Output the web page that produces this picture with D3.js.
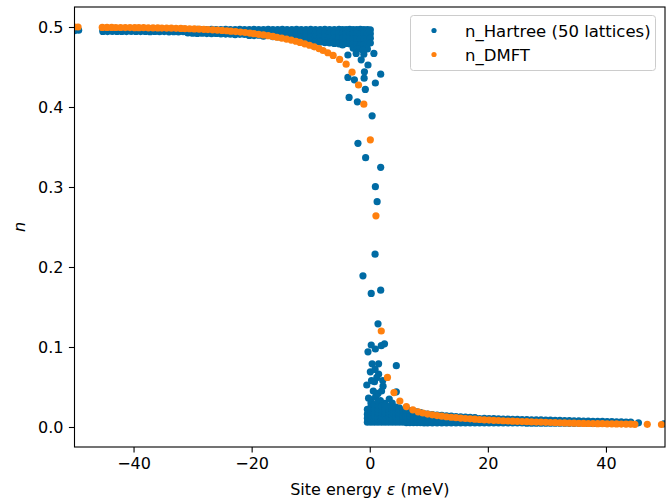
<!DOCTYPE html>
<html><head><meta charset="utf-8">
<script src="https://cdn.jsdelivr.net/npm/d3@7"></script>
<style>body{margin:0;background:#fff}svg{display:block}text{font-family:"DejaVu Sans",sans-serif}</style>
</head><body><div id="chart"></div>
<script>
// ---- data ----
const xTicks = [-40, -20, 0, 20, 40];
const yTicks = [0.0, 0.1, 0.2, 0.3, 0.4, 0.5];
const seriesNames = ["n_Hartree (50 lattices)", "n_DMFT"];

// Hartree columns: [x, y1, y2, ...]
const hartreeLeft = [
[-50.0,0.4955],[-49.3,0.496],
[-45.2,0.497,0.4945],[-44.4,0.4968,0.4943],[-43.6,0.497,0.4946],[-42.8,0.4969,0.4944],[-42.0,0.4968,0.4945],
[-41.2,0.497,0.4943],[-40.4,0.4969,0.4946],[-39.6,0.4968,0.4944],[-38.8,0.497,0.4943],[-38.0,0.4969,0.4945],
[-37.2,0.4968,0.4942],[-36.4,0.497,0.4944],[-35.6,0.4969,0.4941],[-34.8,0.4968,0.4943],[-34.0,0.497,0.494],
[-33.2,0.4969,0.4942],[-32.4,0.4968,0.4939],[-31.6,0.497,0.4941],[-30.8,0.4969,0.4937,0.4925],[-30.0,0.4968,0.494,0.4922],
[-29.2,0.497,0.4938,0.492],[-28.4,0.4969,0.4936,0.4923],[-27.6,0.4968,0.4939,0.4918],[-26.8,0.497,0.4937,0.4916],
[-26.0,0.4969,0.4934,0.4919],[-25.2,0.4968,0.4936,0.4914],[-24.4,0.497,0.4933,0.4912],[-23.6,0.4969,0.4935,0.491],
[-22.8,0.4968,0.4932,0.4913,0.4905],[-22.0,0.497,0.4934,0.4908],[-21.2,0.4969,0.4931,0.4906],[-20.4,0.4968,0.4933,0.4904,0.4895],
[-19.6,0.497,0.493,0.49,0.4893],[-18.8,0.4969,0.4932,0.4898],[-18.0,0.4968,0.4929,0.4896,0.4885],[-17.2,0.497,0.4931,0.4894],
[-16.4,0.4969,0.4928,0.4892,0.488],[-15.6,0.4968,0.493,0.489,0.4875],[-14.8,0.497,0.4927,0.4888,0.487],
[-14.0,0.4969,0.4929,0.4886,0.4865],[-13.2,0.4968,0.4926,0.4884,0.486],[-12.4,0.497,0.4928,0.4882,0.4855],
[-11.6,0.4969,0.4925,0.488,0.4848],[-10.8,0.4968,0.4927,0.4878,0.484],[-10.0,0.497,0.4924,0.4876,0.4835],
[-9.2,0.4969,0.4926,0.4874,0.483,0.4815],[-8.4,0.4968,0.4923,0.4872,0.4825,0.481],[-7.6,0.497,0.4925,0.487,0.482,0.4805],
[-6.8,0.4969,0.4922,0.4868,0.4815,0.48],[-6.0,0.4968,0.4924,0.4866,0.481,0.4795],[-5.2,0.497,0.4921,0.4864,0.4805,0.479],
[-4.6,0.4969,0.4923,0.4862,0.48,0.4775],[-4.0,0.4968,0.492,0.486,0.4795],[-3.4,0.497,0.4922,0.4858,0.479],
[-2.8,0.4969,0.4919,0.4856,0.4785,0.4735],[-2.2,0.4968,0.4921,0.4854,0.478,0.472],[-1.6,0.497,0.4918,0.4852,0.4775,0.473],
[-1.0,0.4969,0.492,0.485,0.478,0.472,0.466],[-0.4,0.4968,0.4917,0.4848,0.4785,0.4725],[0.1,0.4965,0.4915,0.486,0.48]
];
// Hartree scattered points near the step: [x, y]
const hartreeStep = [
[-3.7,0.465],[-2.3,0.467],[-1.15,0.471],[-1.45,0.459],[-0.3,0.4525],[0.7,0.467],[-0.9,0.444],[-3.7,0.437],
[-2.6,0.434],[-0.95,0.436],[0.95,0.43],[1.85,0.441],[-0.75,0.422],[-3.5,0.412],[-2.1,0.4065],[0.4,0.389],
[-2.0,0.3546],[-0.7,0.3366],[1.85,0.3246],[0.95,0.3004],[1.25,0.2816],[0.9,0.216],[-1.15,0.189],[0.25,0.167],
[1.85,0.171],[1.4,0.129],[0.25,0.1025],[0.95,0.0975],[-0.3,0.094],[1.95,0.1016],[2.5,0.104],[0.4,0.079],
[1.5,0.079],[0.1,0.069],[1.5,0.066],[0.8,0.0566],[-0.5,0.0525],[2.25,0.051],[4.5,0.0766],[0.25,0.034],
[1.4,0.042],[2.5,0.0296],[4.5,0.044],[0.9,0.072],[1.2,0.062],[0.3,0.058],[2.0,0.045],[1.0,0.038],
[2.8,0.025],[3.3,0.035],[1.8,0.033],[0.6,0.045],[3.8,0.03],[2.2,0.058],[-0.2,0.036]
];
const hartreeRight = [
[-0.4,0.006,0.011,0.016,0.022],[0.2,0.006,0.01,0.014,0.019,0.025,0.03],[0.8,0.006,0.01,0.014,0.018,0.023,0.028],
[1.4,0.006,0.01,0.014,0.018,0.022,0.027,0.032],[2.0,0.006,0.01,0.014,0.018,0.022,0.026],[2.6,0.006,0.01,0.014,0.018,0.022,0.027],
[3.2,0.006,0.01,0.014,0.018,0.022,0.026],[3.8,0.006,0.01,0.014,0.018,0.022,0.025],[4.4,0.006,0.01,0.014,0.018,0.022,0.025],
[5.0,0.006,0.01,0.014,0.018,0.022,0.024],[5.6,0.006,0.01,0.014,0.018,0.021],[6.2,0.0055,0.0095,0.0135,0.0175,0.021],
[6.8,0.0055,0.0095,0.0135,0.0175,0.0205],[7.4,0.0055,0.0095,0.0135,0.017,0.0195],[8.0,0.0055,0.0095,0.0135,0.017,0.019],
[8.6,0.0055,0.009,0.013,0.0165,0.018],[9.2,0.005,0.009,0.013,0.0165],[9.8,0.005,0.009,0.013,0.016],
[10.6,0.005,0.009,0.0125,0.0155],[11.4,0.005,0.009,0.0125,0.015],[12.2,0.005,0.0085,0.012,0.0145],
[13.0,0.005,0.0085,0.012,0.014],[13.8,0.005,0.0085,0.012,0.0135],[14.6,0.005,0.0085,0.0115,0.013],
[15.4,0.005,0.0085,0.0115,0.0128],[16.2,0.005,0.008,0.011,0.0125],[17.0,0.005,0.008,0.011,0.012],
[17.8,0.005,0.008,0.011,0.0118],[18.6,0.005,0.008,0.0105],[19.4,0.005,0.008,0.0108],[20.2,0.005,0.0078,0.0105],
[21.0,0.005,0.0078,0.0104],[21.8,0.005,0.0077,0.0102],[22.6,0.005,0.0076,0.01],[23.4,0.005,0.0075,0.0098],
[24.2,0.005,0.0074,0.0096],[25.0,0.005,0.0073,0.0095],[25.8,0.005,0.0072,0.0094],[26.6,0.0048,0.0071,0.0092],
[27.4,0.0048,0.007,0.009],[28.2,0.0048,0.0069,0.0089],[29.0,0.0048,0.0068,0.0088],[29.8,0.0048,0.0067,0.0086],
[30.6,0.0047,0.0066,0.0085],[31.4,0.0047,0.0065,0.0084],[32.2,0.0047,0.0064,0.0082],[33.0,0.0047,0.0064,0.0081],
[33.8,0.0046,0.0063,0.008],[34.6,0.0046,0.0062,0.0078],[35.4,0.0046,0.0061,0.0077],[36.2,0.0046,0.006,0.0075],
[37.0,0.0045,0.006,0.0074],[37.8,0.0045,0.0059,0.0072],[38.6,0.0045,0.0058,0.0071],[39.4,0.0045,0.0058,0.007],
[40.2,0.0044,0.0057,0.0068],[41.0,0.0044,0.0056,0.0067],[41.8,0.0044,0.0056,0.0065],[42.6,0.0044,0.0055,0.0064],
[43.4,0.0043,0.0055,0.0062],[44.2,0.0043,0.0054,0.006],[45.5,0.0052],[49.8,0.004]
];

const dmftX = [-50.0,-49.4,
-45.3,-44.5,-43.7,-43.0,-42.2,-41.4,-40.6,-39.8,-39.1,-38.3,-37.5,-36.7,-35.9,-35.2,-34.4,-33.6,-32.8,-32.0,
-31.3,-30.5,-29.7,-28.9,-28.1,-27.4,-26.6,-25.8,-25.0,-24.2,-23.5,-22.7,-21.9,-21.1,-20.3,-19.6,-18.8,-18.0,
-17.2,-16.4,-15.7,-14.9,-14.1,-13.3,-12.5,-11.8,-11.0,-10.2,-9.4,-8.6,-7.9,-7.1,-6.2,-5.1,-4.0,-3.0,-1.9,-1.0,
0.1,1.05,1.95,3.0,4.1,5.1,6.2,7.3,8.2,9.0,9.8,10.6,11.4,12.2,13.0,13.8,14.6,15.4,16.2,17.0,17.8,18.6,19.4,
20.2,21.0,21.8,22.6,23.4,24.2,25.0,25.8,26.6,27.4,28.2,29.0,29.8,30.6,31.4,32.2,33.0,33.8,34.6,35.4,36.2,37.0,
37.8,38.6,39.4,40.2,41.0,41.8,42.6,43.4,44.2,44.9,47.0,49.4];
const dmftY = [0.5,0.5,
0.4995,0.4995,0.4995,0.4994,0.4994,0.4993,0.4993,0.4992,0.4992,0.4991,0.499,0.4989,0.4988,0.4987,0.4986,0.4985,0.4983,0.4982,
0.498,0.4978,0.4976,0.4974,0.4971,0.4968,0.4965,0.4961,0.4957,0.4953,0.4948,0.4943,0.4937,0.4931,0.4924,0.4917,0.4909,0.4901,
0.4892,0.4882,0.4872,0.4861,0.4849,0.4836,0.4822,0.4807,0.479,0.4772,0.4752,0.473,0.4706,0.4678,0.4645,0.4595,0.4535,0.4435,0.4275,0.4035,
0.359,0.264,0.12,0.062,0.043,0.0325,0.0255,0.0215,0.019,0.0175,0.0162,0.0152,0.0143,0.0135,0.0128,0.0122,0.0116,0.0111,0.0106,0.0102,0.0098,0.0094,0.009,
0.0087,0.0084,0.0081,0.0078,0.0075,0.0073,0.0071,0.0068,0.0066,0.0064,0.0062,0.006,0.0058,0.0056,0.0054,0.0052,0.0051,0.0049,0.0048,0.0046,0.0045,0.0044,0.0043,
0.0042,0.0041,0.004,0.0039,0.0038,0.0037,0.0036,0.0035,0.0034,0.0033,0.0031,0.0029];

// ---- chart ----
const W = 669, H = 502;
const m = {left: 74.5, right: 665, top: 7, bottom: 447};
const colors = ["#006BA4", "#FF800E"];
const fs = 16;

const x = d3.scaleLinear().domain([-50, 50]).range([m.left, m.right]);
const y = d3.scaleLinear().domain([-0.025, 0.525]).range([m.bottom, m.top]);

const svg = d3.select("#chart").append("svg").attr("width", W).attr("height", H);
svg.append("defs").append("clipPath").attr("id", "clip")
  .append("rect").attr("x", m.left).attr("y", m.top).attr("width", m.right - m.left).attr("height", m.bottom - m.top);

const flatCols = cols => cols.flatMap(c => c.slice(1).map(v => [c[0], v]));
const hartree = [...flatCols(hartreeLeft), ...hartreeStep, ...flatCols(hartreeRight)];
const dmft = dmftX.map((v, i) => [v, dmftY[i]]);

const g = svg.append("g").attr("clip-path", "url(#clip)");
g.selectAll("circle.h").data(hartree).enter().append("circle").attr("class", "h")
  .attr("cx", d => x(d[0])).attr("cy", d => y(d[1])).attr("r", 3.6).attr("fill", colors[0]);
g.selectAll("circle.d").data(dmft).enter().append("circle").attr("class", "d")
  .attr("cx", d => x(d[0])).attr("cy", d => y(d[1])).attr("r", 3.6).attr("fill", colors[1]);

// axes
const fmtX = d => (d < 0 ? "\u2212" + Math.abs(d) : String(d));
const xAxis = d3.axisBottom(x).tickValues(xTicks).tickFormat(fmtX).tickSize(5.6).tickPadding(5);
const yAxis = d3.axisLeft(y).tickValues(yTicks).tickFormat(d3.format(".1f")).tickSize(5.6).tickPadding(5.5);
const gx = svg.append("g").attr("transform", `translate(0,${m.bottom})`).call(xAxis);
const gy = svg.append("g").attr("transform", `translate(${m.left},0)`).call(yAxis);
[gx, gy].forEach(a => {
  a.select(".domain").remove();
  a.selectAll("line").attr("stroke", "#000").attr("stroke-width", 1.1);
  a.selectAll("text").attr("font-size", fs).attr("fill", "#000").attr("font-family", "DejaVu Sans");
});

// frame
svg.append("rect").attr("x", m.left).attr("y", m.top).attr("width", m.right - m.left).attr("height", m.bottom - m.top)
  .attr("fill", "none").attr("stroke", "#000").attr("stroke-width", 1.1);

// labels
svg.append("text").attr("x", (m.left + m.right) / 2).attr("y", 495).attr("text-anchor", "middle")
  .attr("font-size", fs).attr("fill", "#000")
  .html('Site energy <tspan font-style="italic">ε</tspan> (meV)');
svg.append("text").attr("transform", "translate(25,227) rotate(-90)").attr("text-anchor", "middle")
  .attr("font-size", fs).attr("font-style", "italic").attr("fill", "#000").text("n");

// legend
const lg = svg.append("g");
lg.append("rect").attr("x", 410.5).attr("y", 15.5).attr("width", 245).attr("height", 55).attr("rx", 3)
  .attr("fill", "#fff").attr("fill-opacity", 0.8).attr("stroke", "#cccccc").attr("stroke-width", 1);
seriesNames.forEach((name, i) => {
  const cy = 30.5 + i * 24;
  lg.append("circle").attr("cx", 434).attr("cy", cy).attr("r", 2.6).attr("fill", colors[i]);
  lg.append("text").attr("x", 465).attr("y", cy + 6).attr("font-size", 16.5).attr("fill", "#000").text(name);
});
</script></body></html>
